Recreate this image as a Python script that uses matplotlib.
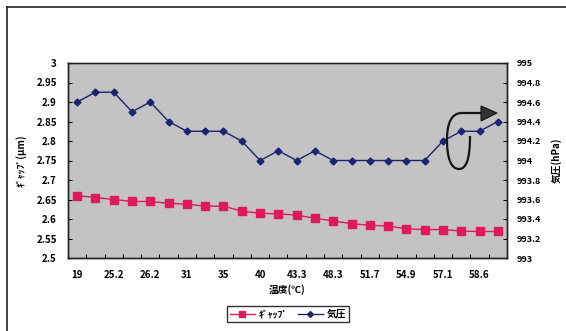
import matplotlib
matplotlib.use("Agg")
import matplotlib.pyplot as plt
from matplotlib.path import Path
from matplotlib.patches import PathPatch, Polygon
from matplotlib.lines import Line2D

plt.rcParams['font.family'] = ['Noto Sans CJK JP', 'DejaVu Sans']

# 24 measuring points, only every other temperature is labelled on the chart
temp_labels = ["19", "25.2", "26.2", "31", "35", "40", "43.3",
               "48.3", "51.7", "54.9", "57.1", "58.6"]
gap = [2.660, 2.655, 2.650, 2.645, 2.645, 2.640, 2.638, 2.633,
       2.633, 2.620, 2.615, 2.613, 2.610, 2.602, 2.595, 2.588,
       2.584, 2.582, 2.575, 2.573, 2.573, 2.569, 2.568, 2.568]
pressure = [994.6, 994.7, 994.7, 994.5, 994.6, 994.4, 994.3, 994.3,
            994.3, 994.2, 994.0, 994.1, 994.0, 994.1, 994.0, 994.0,
            994.0, 994.0, 994.0, 994.0, 994.2, 994.3, 994.3, 994.4]

W, H = 566, 331
RED = "#e0185e"
BLUE = "#1c2470"


def px(x, y):
    # pixel position (top-left origin) -> figure fraction
    return x / W, 1 - y / H


fig = plt.figure(figsize=(W / 100, H / 100), dpi=100)
fig.patch.set_facecolor("white")

ax = fig.add_axes([68 / W, 1 - 258 / H, 439 / W, 195 / H])
ax.set_facecolor("#c3c3c3")
ax2 = ax.twinx()

n = len(gap)
xs = list(range(n))
ax.plot(xs, gap, color=RED, lw=1.0, marker="s", ms=5.5, mfc=RED, mec=RED, zorder=3)
ax2.plot(xs, pressure, color=BLUE, lw=1.0, marker="D", ms=3.5, mfc=BLUE, mec=BLUE, zorder=3)

ax.set_xlim(-0.5, n - 0.5)
ax.set_ylim(2.5, 3.0)
ax2.set_ylim(993, 995)

ax.set_yticks([2.5 + 0.05 * i for i in range(11)])
ax.set_yticklabels(["2.5", "2.55", "2.6", "2.65", "2.7", "2.75", "2.8",
                    "2.85", "2.9", "2.95", "3"])
ax2.set_yticks([993 + 0.2 * i for i in range(11)])
ax2.set_yticklabels(["993", "993.2", "993.4", "993.6", "993.8", "994",
                     "994.2", "994.4", "994.6", "994.8", "995"])

ax.set_xticks(list(range(0, n, 2)))
ax.set_xticklabels(temp_labels)
ax.set_xticks([i + 0.5 for i in range(n - 1)], minor=True)
ax.tick_params(axis="x", which="major", length=0, pad=9, labelsize=7)
ax.tick_params(axis="x", which="minor", direction="in", length=3, width=0.8)
ax.tick_params(axis="y", direction="in", length=3, width=0.8, pad=8, labelsize=7)
ax2.tick_params(axis="y", direction="in", length=3, width=0.8, pad=7, labelsize=6.5)
for lab in ax.get_xticklabels() + ax.get_yticklabels() + ax2.get_yticklabels():
    lab.set_fontweight("bold")

for a in (ax, ax2):
    for s in a.spines.values():
        s.set_color("#222222")
        s.set_linewidth(1.0)
ax.spines["top"].set_color("#555555")

ax.set_xlabel("温度(℃)", fontsize=7, fontweight="bold")
ax.xaxis.set_label_coords(0.5, -0.135)
ax.set_ylabel("ｷﾞｬｯﾌﾟ(μm)", fontsize=7, fontweight="bold")
ax.yaxis.set_label_coords(-0.095, 0.5)
ax2.set_ylabel("気圧(hPa)", fontsize=7, fontweight="bold", rotation=90)
ax2.yaxis.set_label_coords(1.10, 0.5)

handles = [Line2D([], [], color=RED, lw=1.0, marker="s", ms=5, mfc=RED, mec=RED),
           Line2D([], [], color=BLUE, lw=1.0, marker="D", ms=3, mfc=BLUE, mec=BLUE)]
leg = fig.legend(handles, ["ｷﾞｬｯﾌﾟ", "気圧"], loc="center", bbox_to_anchor=px(288, 314),
                 ncol=2, fontsize=7, frameon=True, fancybox=False, handlelength=2.6,
                 columnspacing=1.0, borderpad=0.3, handletextpad=0.4)
leg.get_frame().set_edgecolor("black")
leg.get_frame().set_linewidth(1.0)
for t in leg.get_texts():
    t.set_fontweight("bold")

# hand drawn loop arrow near the end of the pressure curve
pts = [(470, 136), (470, 160), (466, 169), (459, 169),
       (451, 169), (447, 158), (447, 140),
       (447, 122), (452, 113), (462, 113), (482, 113)]
codes = [Path.MOVETO, Path.CURVE4, Path.CURVE4, Path.CURVE4,
         Path.CURVE4, Path.CURVE4, Path.CURVE4,
         Path.CURVE4, Path.CURVE4, Path.CURVE4, Path.LINETO]
loop = Path([px(*p) for p in pts], codes)
fig.add_artist(PathPatch(loop, transform=fig.transFigure, fill=False,
                         edgecolor="#151515", lw=1.6, zorder=5))
fig.add_artist(Polygon([px(481, 106), px(481, 121), px(497, 113)], closed=True,
                       transform=fig.transFigure, facecolor="#333333",
                       edgecolor="#151515", lw=0.8, zorder=5))

# outer frame of the scanned chart
fig.add_artist(Line2D([7 / W, 7 / W], [0, 1 - 7 / H], transform=fig.transFigure,
                      color="#222222", lw=1.2))
fig.add_artist(Line2D([7 / W, 1], [1 - 7 / H, 1 - 7 / H], transform=fig.transFigure,
                      color="#222222", lw=1.2))

fig.savefig("out.png", dpi=100)
